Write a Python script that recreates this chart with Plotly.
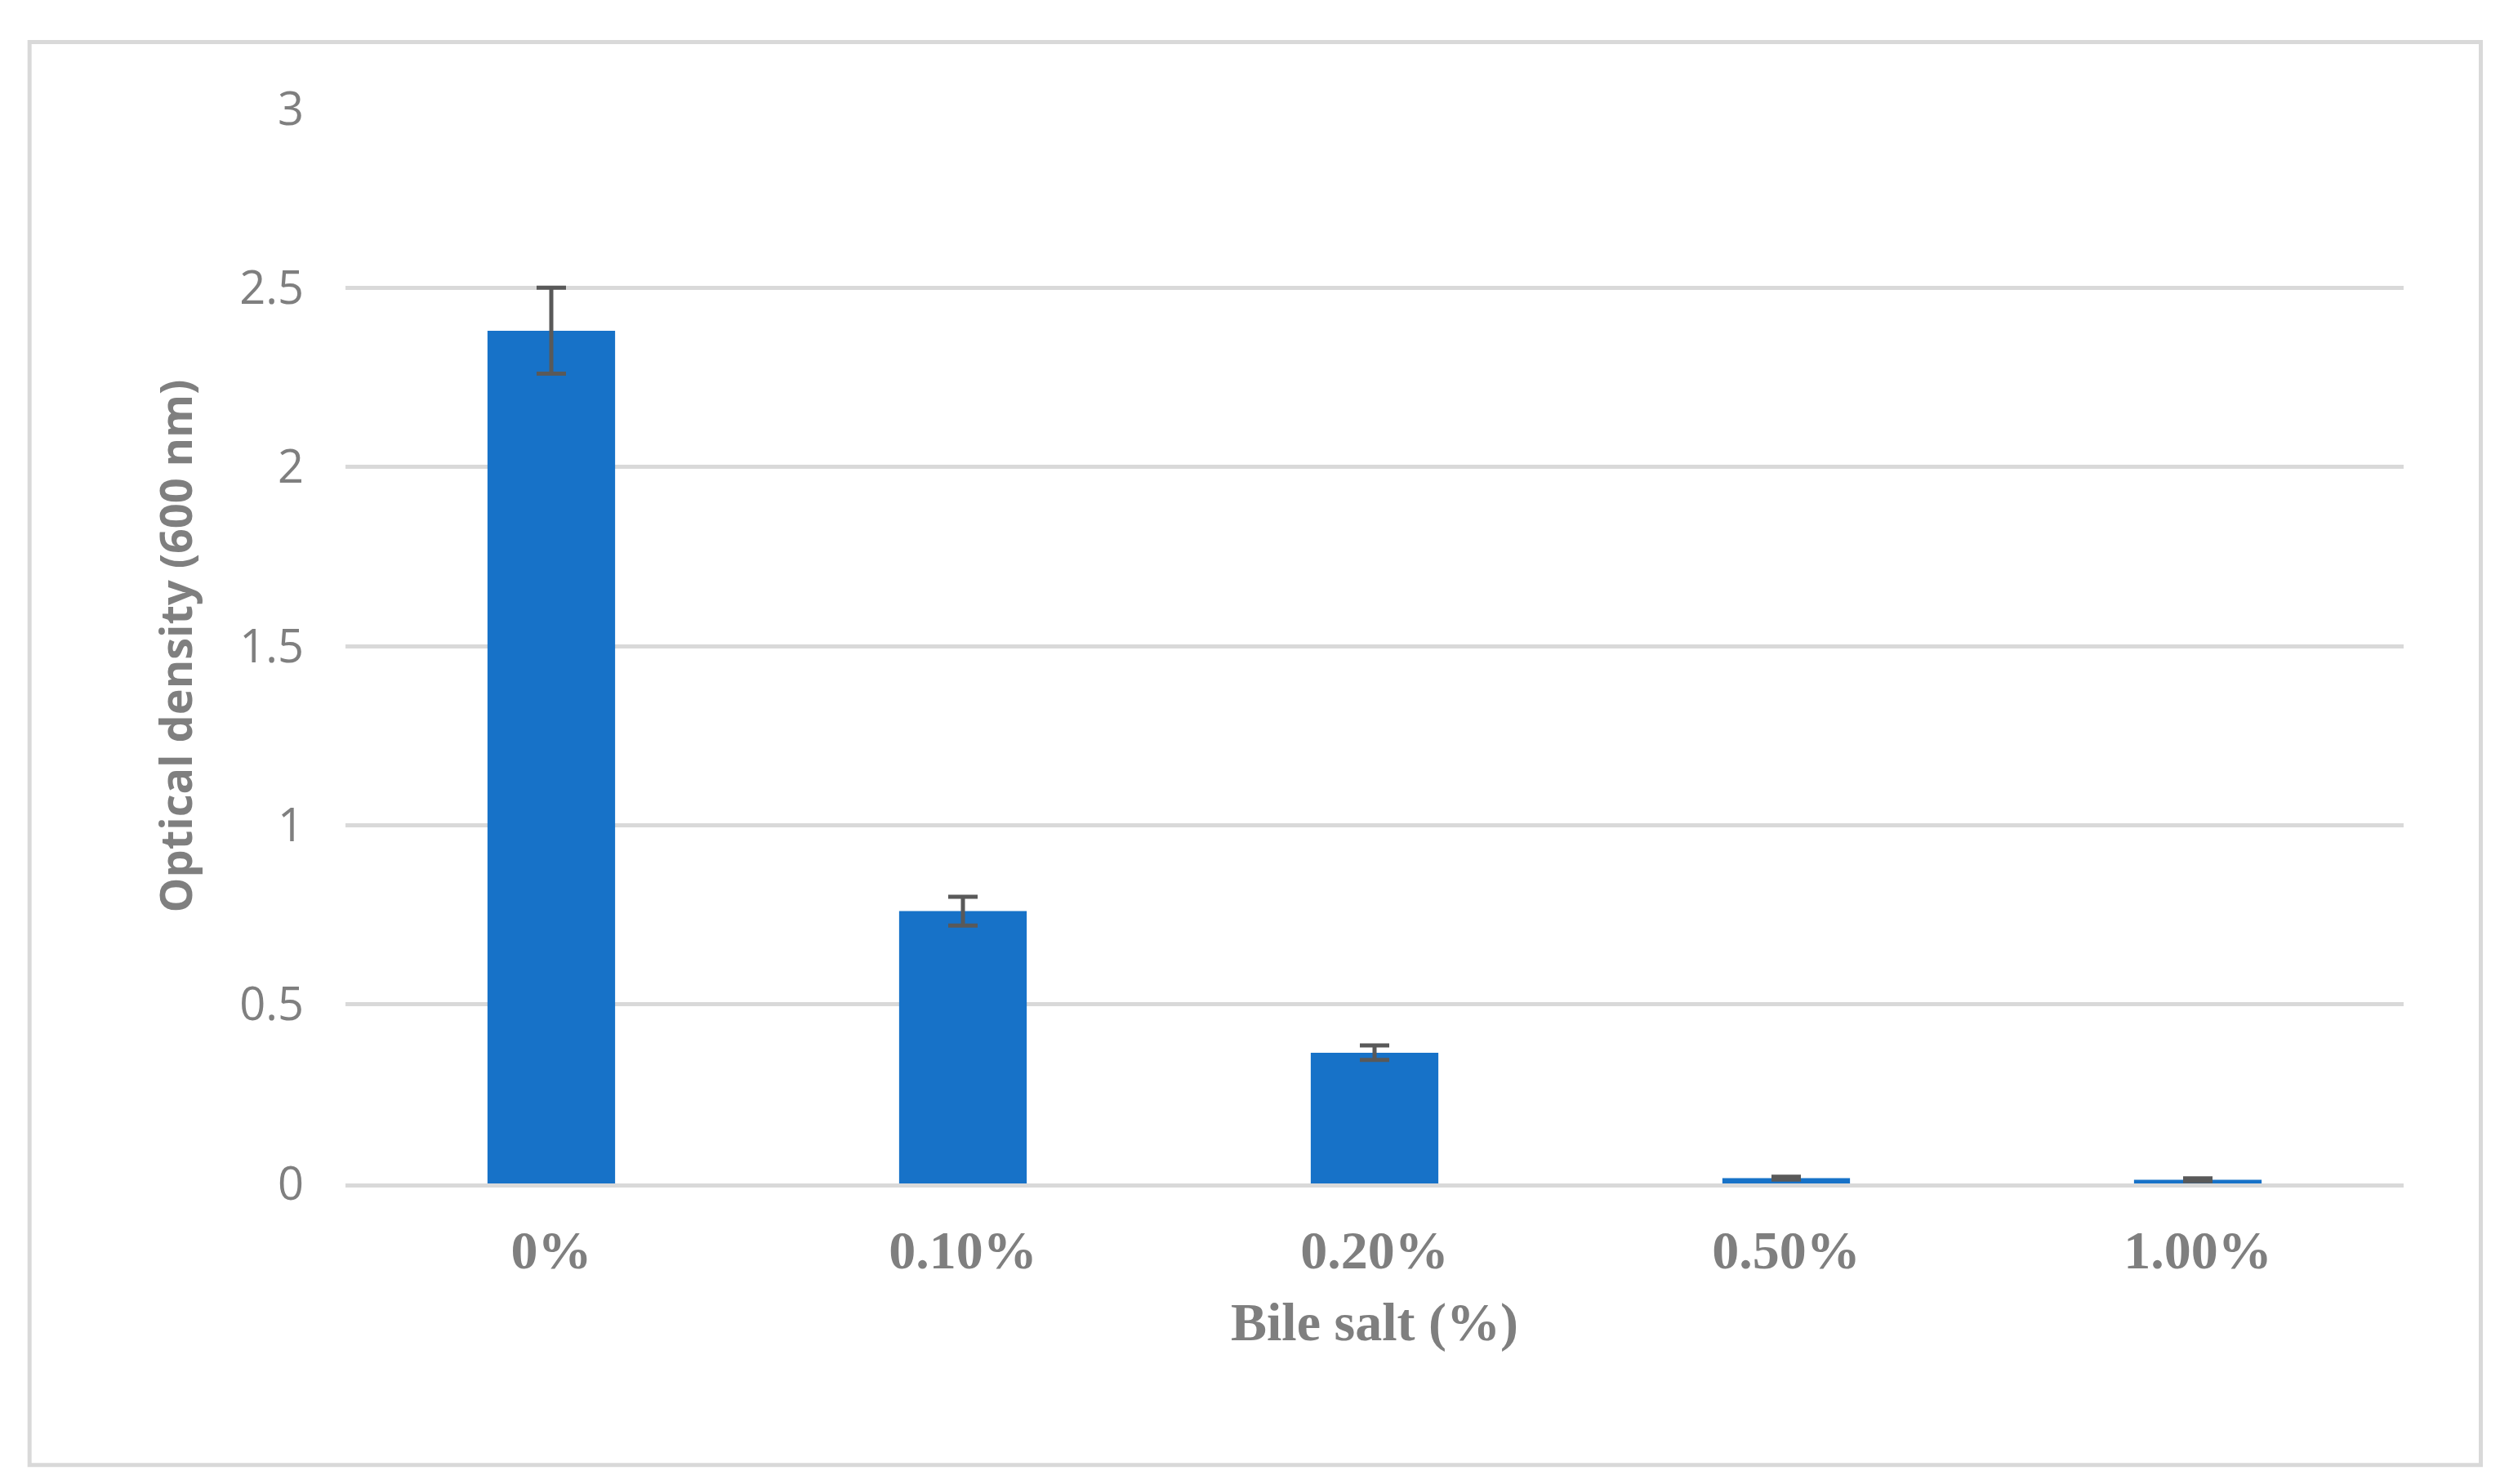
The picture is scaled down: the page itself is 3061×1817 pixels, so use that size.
import plotly.graph_objects as go

categories = ['0%', '0.10%', '0.20%', '0.50%', '1.00%']
od_values = [2.38, 0.76, 0.365, 0.015, 0.01]
od_errors = [0.12, 0.04, 0.02, 0.004, 0.004]
y_ticks = [0, 0.5, 1, 1.5, 2, 2.5, 3]
y_ticklabels = ['0', '0.5', '1', '1.5', '2', '2.5', '3']

W, H = 3061, 1817

fig = go.Figure()
fig.add_trace(go.Bar(
    x=categories,
    y=od_values,
    width=0.31,
    marker=dict(color='#1772C8', line=dict(width=0)),
    error_y=dict(type='data', array=od_errors, visible=True,
                 color='#595959', thickness=5, width=18),
))

# outer frame around the chart area
fig.add_shape(type='rect', xref='paper', yref='paper',
              x0=-0.1535, x1=1.0375, y0=-0.262, y1=1.062,
              line=dict(color='#D9D9D9', width=5))

fig.update_layout(
    width=W, height=H,
    margin=dict(l=415, r=126, t=125, b=376),
    plot_bgcolor='white', paper_bgcolor='white',
    showlegend=False,
    bargap=0.69,
    xaxis=dict(
        title=dict(text='Bile salt (%)', standoff=30,
                   font=dict(family='Liberation Serif', size=66, color='#7F7F7F', weight='bold')),
        tickfont=dict(family='Liberation Serif', size=66, color='#7F7F7F', weight='bold'),
        showline=True, linecolor='#D9D9D9', linewidth=5,
        ticks='', ticklabelstandoff=20,
    ),
    yaxis=dict(
        title=dict(text='Optical density (600 nm)', standoff=40,
                   font=dict(family='Open Sans', size=54, color='#7F7F7F', weight='bold')),
        range=[0, 3], tickvals=y_ticks, ticktext=y_ticklabels,
        tickfont=dict(family='Open Sans', size=56, color='#7F7F7F'),
        gridcolor='#D9D9D9', gridwidth=5, zeroline=False,
        ticks='', ticklabelstandoff=50,
    ),
)

fig.write_html('out.html')
